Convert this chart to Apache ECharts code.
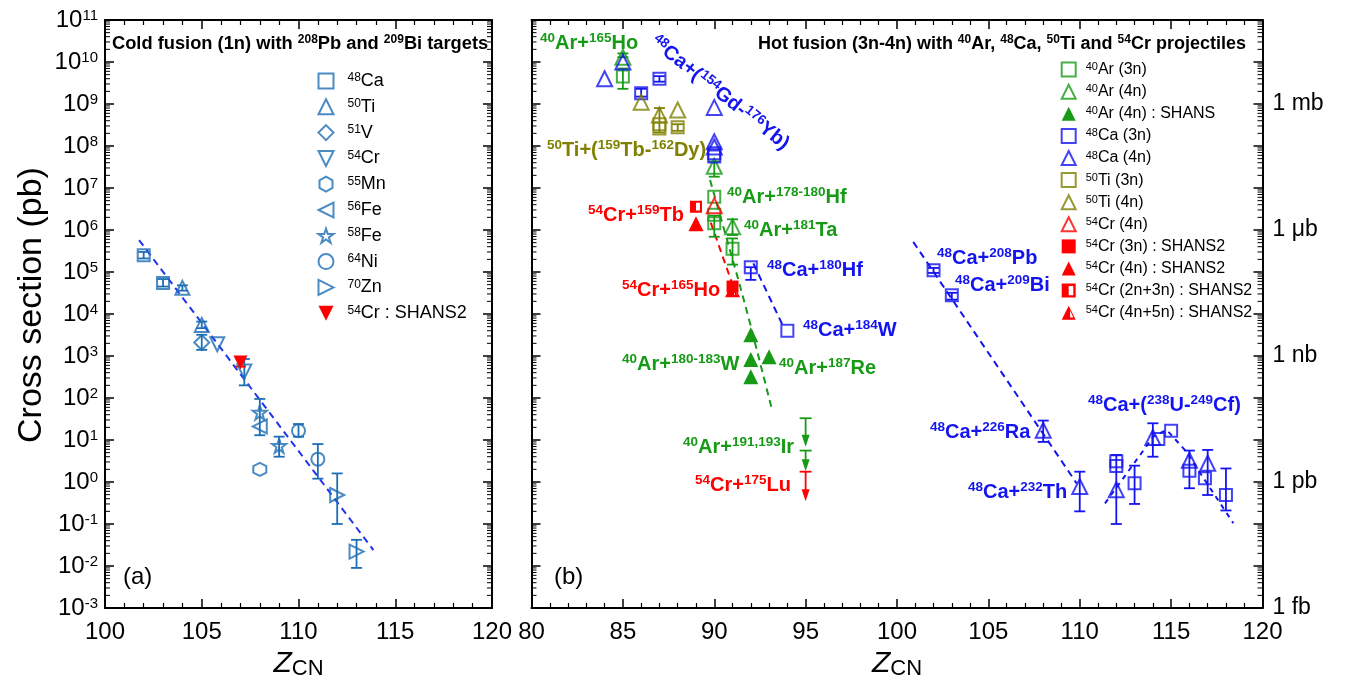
<!DOCTYPE html>
<html><head><meta charset="utf-8">
<script src="https://cdn.jsdelivr.net/npm/echarts@6/dist/echarts.min.js"></script>
<style>html,body{margin:0;padding:0;background:#fff}#c{width:1356px;height:686px}</style>
</head><body><div id="c"></div>
<script>
// ================= DATA =================
// Panel (a): cold fusion, [Z_CN, cross section (pb)]
const a_Ca48 = [[102, 2.5e5], [103, 5.5e4]];
const a_Ti50 = [[104, 4.2e4], [105, 5.5e3]];
const a_V51 = [[105, 2.1e3]];
const a_Cr54 = [[105.8, 1.9e3], [107.2, 4.3e2]];
const a_Mn55 = [[108, 2.0]];
const a_Fe56 = [[108, 21]];
const a_Fe58 = [[108, 45], [109, 7.3]];
const a_Ni64 = [[110, 16.6], [111, 3.5]];
const a_Zn70 = [[112, 0.49], [113, 0.022]];
const a_Cr54S = [[107, 700]];
// error bars [Z, low, high]
const a_err = [[102, 2.1e5, 3.0e5], [103, 4.5e4, 6.8e4], [104, 3.6e4, 4.8e4], [105, 4.6e3, 6.6e3],
  [105, 1.4e3, 3.2e3], [107.2, 2.0e2, 8.5e2], [108, 13, 95], [109, 4.0, 12], [110, 12, 24],
  [111, 1.2, 8], [112, 0.1, 1.6], [113, 0.009, 0.042]];
const a_errRed = [[107, 560, 880]];
const a_fit = [[101.76, 5.75e5], [113.87, 0.024]];

// Panel (b): hot fusion
const b_Ar3n = [[85, 4.5e9], [90, 6.2e6], [90, 2.3e6], [90, 1.45e6], [91, 3.6e5]];
const b_Ar4n = [[85, 1.3e10], [90, 3.3e7], [91, 1.2e6]];
const b_Ar4nS = [[92, 3.2e3], [92, 830], [92, 320], [93, 960]];
const b_Ca3n = [[86, 1.8e9], [87, 4.0e9], [90, 6.7e7], [90, 5.6e7], [92, 1.3e5], [94, 4.0e3],
  [102, 1.1e5], [103, 2.8e4], [112, 3.1], [112, 2.4], [113, 0.93], [114.3, 10.5], [115, 16.6],
  [116, 1.86], [116.85, 1.23], [118, 0.49]];
const b_Ca4n = [[84, 4.0e9], [85, 1.0e10], [90, 8.3e8], [90, 1.26e8], [90, 9.5e7], [108, 17],
  [110, 0.78], [112, 0.65], [114, 11.5], [116, 3.3], [117, 2.8]];
const b_Ti3n = [[87, 3.3e8], [87, 2.6e8], [88, 2.8e8]];
const b_Ti4n = [[86, 1.1e9], [87, 5.5e8], [88, 7.2e8]];
const b_Cr4n = [[90, 3.8e6]];
const b_Cr3nS = [[91, 4.5e4]];
const b_Cr4nS = [[89, 1.4e6]];
const b_Cr23nS = [[89, 3.6e6]];
const b_Cr45nS = [[91, 3.8e4]];
const b_errGreen = [[85, 2.3e9, 7.0e9], [85, 1.3e10, 1.6e10], [90, 1.86e7, 4.3e7], [90, 6.9e5, 2.2e6],
  [91, 7.6e5, 1.8e6], [91, 1.5e5, 6.3e5]];
const b_errBlue = [[86, 1.5e9, 2.3e9], [87, 3.4e9, 4.6e9], [92, 6.5e4, 1.3e5], [102, 9.5e4, 1.25e5],
  [103, 2.2e4, 3.2e4], [108, 9, 29], [110, 0.2, 1.76], [112, 0.1, 4.4], [113, 0.3, 2.45],
  [114, 4, 25], [116, 0.71, 5.6], [117, 0.49, 5.8], [118, 0.21, 2.1]];
const b_errOlive = [[87, 2.1e8, 8.0e8], [88, 2.3e8, 3.3e8]];
// upper limits [Z, limit, arrow tip]
const b_limGreen = [[95, 33, 6.9], [95, 5.6, 1.8]];
const b_limRed = [[95, 1.76, 0.35]];
// trend lines
const b_fitGreen = [[89.77, 1.55e7], [91.32, 6.5e4], [91.96, 6.0e3], [93.14, 57]];
const b_fitRed = [[89.81, 1.5e6], [91.23, 2.6e4]];
const b_fitBlue1 = [[92.14, 1.6e5], [93.78, 5.0e3]];
const b_fitBlue2 = [[100.89, 5.2e5], [109.83, 0.93]];
const b_fitBlue3 = [[111.38, 0.31], [114.03, 12], [114.76, 17.4], [115.76, 5.75], [118.4, 0.105]];

// axis ticks
const xTicksA = [100, 105, 110, 115, 120];
const xTicksB = [80, 85, 90, 95, 100, 105, 110, 115, 120];
const yExponents = [-3, -2, -1, 0, 1, 2, 3, 4, 5, 6, 7, 8, 9, 10, 11];
const unitLabels = {'9': '1 mb', '6': '1 \u03bcb', '3': '1 nb', '0': '1 pb', '-3': '1 fb'};

// annotations (text, x px, y px, colour key)
const annotations = [
  ['{s|40}Ar+{s|165}Ho', 540, 43, 'g'],
  ['{s|50}Ti+({s|159}Tb-{s|162}Dy)', 547, 150, 'o'],
  ['{s|40}Ar+{s|178-180}Hf', 727, 197, 'g'],
  ['{s|54}Cr+{s|159}Tb', 588, 215, 'r'],
  ['{s|40}Ar+{s|181}Ta', 744, 230, 'g'],
  ['{s|48}Ca+{s|180}Hf', 767, 270, 'b'],
  ['{s|54}Cr+{s|165}Ho', 622, 290, 'r'],
  ['{s|48}Ca+{s|184}W', 803, 330, 'b'],
  ['{s|40}Ar+{s|180-183}W', 622, 364, 'g'],
  ['{s|40}Ar+{s|187}Re', 779, 368, 'g'],
  ['{s|40}Ar+{s|191,193}Ir', 683, 447, 'g'],
  ['{s|54}Cr+{s|175}Lu', 695, 485, 'r'],
  ['{s|48}Ca+{s|208}Pb', 937, 258, 'b'],
  ['{s|48}Ca+{s|209}Bi', 955, 285, 'b'],
  ['{s|48}Ca+{s|226}Ra', 930, 432, 'b'],
  ['{s|48}Ca+{s|232}Th', 968, 492, 'b'],
  ['{s|48}Ca+({s|238}U-{s|249}Cf)', 1088, 405, 'b']
];

// ================= STYLE / BUILD =================
const C = {a: '#1e6eb4', g: '#179b17', b: '#1414f0', o: '#808000', r: '#ff0000'};
const FONT = '"Liberation Sans", Arial, sans-serif';
const P = {
  rect: 'rect', tri: 'triangle', diamond: 'diamond', circle: 'circle',
  triDown: 'path://M0,0L10,0L5,10Z',
  triLeft: 'path://M10,0L10,10L0,5Z',
  triRight: 'path://M0,0L10,5L0,10Z',
  hex: 'path://M5,0L9.33,2.5L9.33,7.5L5,10L0.67,7.5L0.67,2.5Z',
  star: 'path://M5,0L6.2,3.6L10,3.6L6.9,5.8L8.1,9.5L5,7.2L1.9,9.5L3.1,5.8L0,3.6L3.8,3.6Z',
  halfSq: 'path://M0,0H5V10H0Z M5,0H10V10H5Z M5,1.7V8.3H8.3V1.7Z',
  halfTri: 'path://M5,0L5,10L0,10Z M5,0L10,10L5,10Z M6,3.4L6,8.5L8.3,8.5Z'
};

function sc(name, data, panel, symbol, color, hollow, size) {
  return {
    type: 'scatter', name, data, symbol, symbolSize: size,
    xAxisIndex: panel === 'a' ? 0 : 2, yAxisIndex: panel === 'a' ? 0 : 2,
    z: 5, silent: true, emphasis: {disabled: true},
    itemStyle: hollow ? {color: 'rgba(255,255,255,0)', borderColor: color, borderWidth: 2}
                      : {color: color, borderWidth: 0, opacity: 1}
  };
}
function errS(data, color, panel) {
  return {
    type: 'custom', data, xAxisIndex: panel === 'a' ? 0 : 2, yAxisIndex: panel === 'a' ? 0 : 2,
    silent: true, z: 3, clip: false, encode: {x: 0, y: [1, 2]},
    renderItem: (p, api) => {
      const x = api.value(0), lo = api.coord([x, api.value(1)]), hi = api.coord([x, api.value(2)]);
      const st = {stroke: color, lineWidth: 1.8};
      const w = 5.5;
      return {type: 'group', children: [
        {type: 'line', shape: {x1: lo[0], y1: lo[1], x2: hi[0], y2: hi[1]}, style: st},
        {type: 'line', shape: {x1: lo[0] - w, y1: lo[1], x2: lo[0] + w, y2: lo[1]}, style: st},
        {type: 'line', shape: {x1: hi[0] - w, y1: hi[1], x2: hi[0] + w, y2: hi[1]}, style: st}
      ]};
    }
  };
}
function limS(data, color) {
  return {
    type: 'custom', data, xAxisIndex: 2, yAxisIndex: 2, silent: true, z: 4, clip: false,
    encode: {x: 0, y: [1, 2]},
    renderItem: (p, api) => {
      const x = api.value(0), top = api.coord([x, api.value(1)]), tip = api.coord([x, api.value(2)]);
      const st = {stroke: color, lineWidth: 1.8};
      return {type: 'group', children: [
        {type: 'line', shape: {x1: top[0] - 6, y1: top[1], x2: top[0] + 6, y2: top[1]}, style: st},
        {type: 'line', shape: {x1: top[0], y1: top[1], x2: tip[0], y2: tip[1] - 8}, style: st},
        {type: 'polygon', shape: {points: [[tip[0] - 4, tip[1] - 12], [tip[0] + 4, tip[1] - 12], [tip[0], tip[1]]]},
          style: {fill: color}}
      ]};
    }
  };
}
function lineS(data, color, panel, dash) {
  return {
    type: 'line', data, xAxisIndex: panel === 'a' ? 0 : 2, yAxisIndex: panel === 'a' ? 0 : 2,
    showSymbol: false, symbol: 'none', silent: true, z: 2, smooth: false,
    lineStyle: {color, width: 2, type: dash || [7, 5]}, emphasis: {disabled: true}
  };
}
// minor (2..9) log ticks along both y axes of a grid
const minorVals = [];
for (let e = -3; e < 11; e++) for (let k = 2; k <= 9; k++) minorVals.push(k * Math.pow(10, e));
function minorS(panel, xmin, xmax) {
  return {
    type: 'custom', data: minorVals.map(v => [xmin, v]), xAxisIndex: panel === 'a' ? 0 : 2,
    yAxisIndex: panel === 'a' ? 0 : 2, silent: true, z: 6, clip: false, encode: {x: 0, y: 1},
    renderItem: (p, api) => {
      const v = api.value(1);
      const l = api.coord([xmin, v]), r = api.coord([xmax, v]);
      const st = {stroke: '#000', lineWidth: 1};
      return {type: 'group', children: [
        {type: 'line', shape: {x1: l[0], y1: l[1], x2: l[0] + 5, y2: l[1]}, style: st},
        {type: 'line', shape: {x1: r[0] - 5, y1: r[1], x2: r[0], y2: r[1]}, style: st}
      ]};
    }
  };
}

const axisLineSt = {show: true, lineStyle: {color: '#000', width: 2}};
function xAx(grid, pos, min, max, show, ticks) {
  return {
    type: 'value', gridIndex: grid, position: pos, min, max, interval: 5,
    axisLine: axisLineSt, splitLine: {show: false},
    axisTick: {show: true, inside: true, length: 9, lineStyle: {color: '#000', width: 1.5}},
    minorTick: {show: true, splitNumber: 5, length: 5, lineStyle: {color: '#000', width: 1.2}},
    axisLabel: {show: show, fontSize: 24, color: '#000', fontFamily: FONT, margin: 12,
      showMinLabel: true, showMaxLabel: true,
      formatter: v => (ticks.indexOf(v) >= 0 ? String(v) : '')},
    name: show ? '{i|Z}{sub|CN}' : '', nameLocation: 'middle', nameGap: 35,
    nameTextStyle: {rich: {
      i: {fontSize: 30, fontStyle: 'italic', fontFamily: FONT, color: '#000', lineHeight: 32},
      sub: {fontSize: 22, fontFamily: FONT, color: '#000', verticalAlign: 'bottom', lineHeight: 16}}}
  };
}
function yAx(grid, pos, labelMode) {
  const ax = {
    type: 'log', logBase: 10, gridIndex: grid, position: pos, min: 1e-3, max: 1e11, interval: 1,
    axisLine: axisLineSt, splitLine: {show: false}, minorTick: {show: false},
    axisTick: {show: true, inside: true, length: 9, lineStyle: {color: '#000', width: 1.5}},
    axisLabel: {show: labelMode !== 'none'}
  };
  if (labelMode === 'pow') {
    ax.axisLabel = {show: true, color: '#000', fontSize: 24, fontFamily: FONT, margin: 7,
      showMinLabel: true, showMaxLabel: true,
      formatter: v => '10{s|' + Math.round(Math.log10(v)) + '}',
      rich: {s: {fontSize: 15, fontFamily: FONT, color: '#000', verticalAlign: 'top', lineHeight: 12}}};
    ax.name = 'Cross section (pb)';
    ax.nameLocation = 'middle';
    ax.nameGap = 56;
    ax.nameTextStyle = {fontSize: 34, fontFamily: FONT, color: '#000', padding: [0, 0, 0, 18]};
  } else if (labelMode === 'unit') {
    ax.axisLabel = {show: true, color: '#000', fontSize: 23, fontFamily: FONT, margin: 10,
      showMinLabel: true, showMaxLabel: true,
      formatter: v => unitLabels[String(Math.round(Math.log10(v)))] || ''};
  }
  return ax;
}

const legendFmt = n => '{p| }' + n.replace(/^(\d+)/, '{s|$1}');
const namesA = ['48Ca', '50Ti', '51V', '54Cr', '55Mn', '56Fe', '58Fe', '64Ni', '70Zn', '54Cr : SHANS2'];
const namesB = ['40Ar (3n)', '40Ar (4n)', '40Ar (4n) : SHANS', '48Ca (3n)', '48Ca (4n)', '50Ti (3n)',
  '50Ti (4n)', '54Cr (4n)', '54Cr (3n) : SHANS2', '54Cr (4n) : SHANS2', '54Cr (2n+3n) : SHANS2',
  '54Cr (4n+5n) : SHANS2'];

const series = [
  minorS('a', 100, 120), minorS('b', 80, 120),
  lineS(a_fit, '#2233ee', 'a'),
  errS(a_err, C.a, 'a'), errS(a_errRed, C.r, 'a'),
  sc(namesA[0], a_Ca48, 'a', P.rect, C.a, true, 12),
  sc(namesA[1], a_Ti50, 'a', P.tri, C.a, true, 14),
  sc(namesA[2], a_V51, 'a', P.diamond, C.a, true, 15),
  sc(namesA[3], a_Cr54, 'a', P.triDown, C.a, true, 14),
  sc(namesA[4], a_Mn55, 'a', P.hex, C.a, true, 13),
  sc(namesA[5], a_Fe56, 'a', P.triLeft, C.a, true, 14),
  sc(namesA[6], a_Fe58, 'a', P.star, C.a, true, 14),
  sc(namesA[7], a_Ni64, 'a', P.circle, C.a, true, 13),
  sc(namesA[8], a_Zn70, 'a', P.triRight, C.a, true, 14),
  sc(namesA[9], a_Cr54S, 'a', P.triDown, C.r, false, 14),

  lineS(b_fitGreen, C.g, 'b'), lineS(b_fitRed, C.r, 'b'), lineS(b_fitBlue1, C.b, 'b'),
  lineS(b_fitBlue2, C.b, 'b'), lineS(b_fitBlue3, C.b, 'b', [5, 5]),
  errS(b_errGreen, C.g, 'b'), errS(b_errBlue, C.b, 'b'), errS(b_errOlive, C.o, 'b'),
  limS(b_limGreen, C.g), limS(b_limRed, C.r),
  sc(namesB[0], b_Ar3n, 'b', P.rect, C.g, true, 12),
  sc(namesB[1], b_Ar4n, 'b', P.tri, C.g, true, 15),
  sc(namesB[2], b_Ar4nS, 'b', P.tri, C.g, false, 15),
  sc(namesB[3], b_Ca3n, 'b', P.rect, C.b, true, 12),
  sc(namesB[4], b_Ca4n, 'b', P.tri, C.b, true, 15),
  sc(namesB[5], b_Ti3n, 'b', P.rect, C.o, true, 12),
  sc(namesB[6], b_Ti4n, 'b', P.tri, C.o, true, 15),
  sc(namesB[7], b_Cr4n, 'b', P.tri, C.r, true, 15),
  sc(namesB[8], b_Cr3nS, 'b', P.rect, C.r, false, 12),
  sc(namesB[9], b_Cr4nS, 'b', P.tri, C.r, false, 15),
  sc(namesB[10], b_Cr23nS, 'b', P.halfSq, C.r, false, 12),
  sc(namesB[11], b_Cr45nS, 'b', P.halfTri, C.r, false, 15)
];

function richText(txt, x, y, color, size, supSize, bold, extra) {
  const fw = bold ? 'bold' : 'normal';
  return Object.assign({
    type: 'text', x, y, silent: true, z: 10,
    style: {text: txt, fill: color, fontSize: size, fontWeight: fw, fontFamily: FONT, lineHeight: size + 3,
      align: extra && extra.right ? 'right' : 'left', verticalAlign: 'middle',
      textAlign: extra && extra.right ? 'right' : 'left', textVerticalAlign: 'middle',
      rich: {s: {fontSize: supSize, fontWeight: fw, fontFamily: FONT, fill: color, color: color,
        verticalAlign: 'top', lineHeight: supSize}}}
  }, extra && extra.rotation != null ? {rotation: extra.rotation} : {});
}
const graphics = [
  richText('Cold fusion (1n) with {s|208}Pb and {s|209}Bi targets', 112, 44, '#000', 18.3, 12, true),
  richText('Hot fusion (3n-4n) with {s|40}Ar, {s|48}Ca, {s|50}Ti and {s|54}Cr projectiles', 1246, 44, '#000', 18, 12, true, {right: true}),
  richText('(a)', 123, 577, '#000', 24, 15, false),
  richText('(b)', 554, 577, '#000', 24, 15, false),
  richText('{s|48}Ca+({s|154}Gd-{s|176}Yb)', 653, 40, C.b, 20, 13.5, true, {rotation: -0.67})
];
annotations.forEach(a => graphics.push(richText(a[0], a[1], a[2], C[a[3]], 20, 13.5, true)));

const legendBase = (names, left, top, size, sup, gap, iw, pad) => ({
  data: names, orient: 'vertical', left, top, itemGap: gap, itemWidth: iw, itemHeight: iw,
  selectedMode: false, formatter: legendFmt,
  textStyle: {fontSize: size, fontFamily: FONT, color: '#000', lineHeight: size,
    rich: {s: {fontSize: sup, fontFamily: FONT, color: '#000', verticalAlign: 'top', lineHeight: sup},
           p: {width: pad, fontSize: size, lineHeight: size}}}
});

const option = {
  animation: false, backgroundColor: '#fff',
  grid: [
    {left: 105, top: 20, width: 387, height: 588, containLabel: false, outerBoundsMode: 'none'},
    {left: 531.5, top: 20, width: 731, height: 588, containLabel: false, outerBoundsMode: 'none'}
  ],
  xAxis: [xAx(0, 'bottom', 100, 120, true, xTicksA), xAx(0, 'top', 100, 120, false, xTicksA),
          xAx(1, 'bottom', 80, 120, true, xTicksB), xAx(1, 'top', 80, 120, false, xTicksB)],
  yAxis: [yAx(0, 'left', 'pow'), yAx(0, 'right', 'none'), yAx(1, 'left', 'none'), yAx(1, 'right', 'unit')],
  legend: [legendBase(namesA, 312.5, 67, 18, 12, 7.8, 15, 9),
           legendBase(namesB, 1055.7, 56.6, 16, 11, 6.1, 14, 5)],
  graphic: graphics,
  series
};
const chart = echarts.init(document.getElementById('c'), null, {renderer: 'canvas'});
chart.setOption(option);
</script></body></html>
